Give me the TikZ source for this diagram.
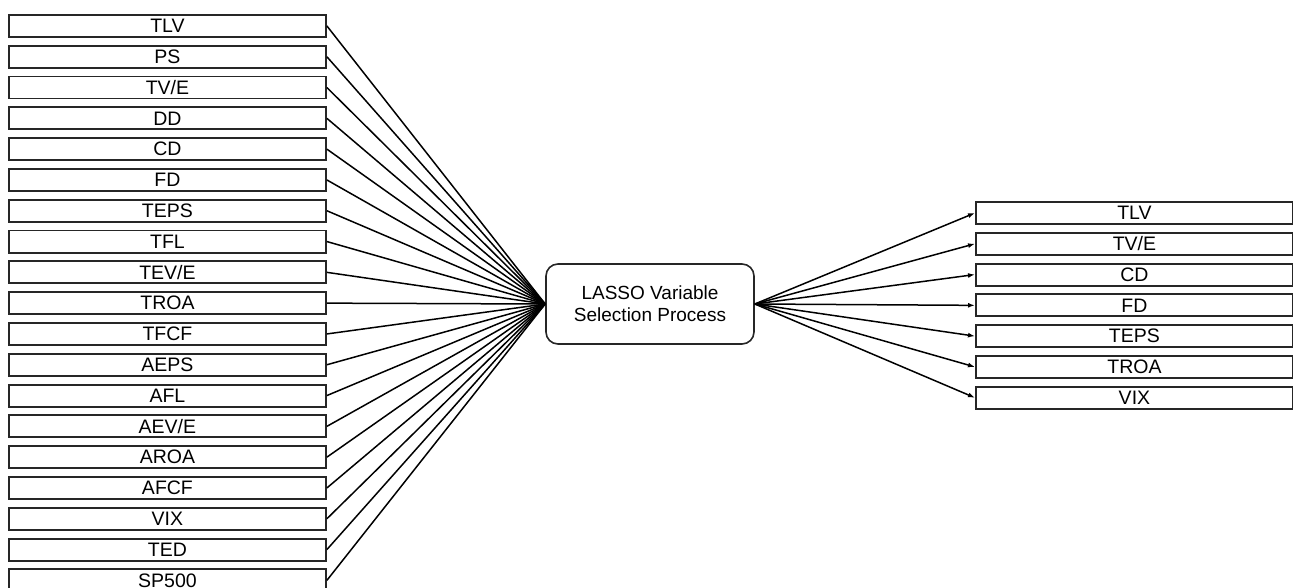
\documentclass[tikz,border=0pt]{standalone}
\usepackage{fontspec}
\setmainfont{Liberation Sans}
\usetikzlibrary{arrows.meta}
\begin{document}
\begin{tikzpicture}[x=1pt,y=-1pt,
  varbox/.style={draw=black!85, line width=1.9pt, minimum width=317pt, minimum height=22pt,
    inner sep=0pt, anchor=north west, font=\fontsize{19.5}{19.5}\selectfont},
  procbox/.style={draw=black!85, line width=1.6pt, rounded corners=12pt, minimum width=208pt,
    minimum height=80pt, align=center, font=\fontsize{19}{22}\selectfont},
  feed/.style={line width=1.5pt},
  pick/.style={line width=1.5pt, -{Latex[length=7pt,width=5pt]}}]
\useasboundingbox (0,0) rectangle (1293,588);
% candidate predictors
\foreach \lab [count=\i from 0] in {TLV,PS,TV/E,DD,CD,FD,TEPS,TFL,TEV/E,TROA,TFCF,AEPS,AFL,AEV/E,AROA,AFCF,VIX,TED,SP500}
  \node[varbox] (L\i) at (8,{14+30.8*\i}) {\lab};
% selection step
\node[procbox] (lasso) at (650,304) {LASSO Variable\\Selection Process};
% retained predictors
\foreach \lab [count=\i from 0] in {TLV,TV/E,CD,FD,TEPS,TROA,VIX}
  \node[varbox] (R\i) at (975,{201+30.8*\i}) {\lab};
\foreach \i in {0,...,18}
  \draw[feed] (L\i.east) -- (lasso.west);
\foreach \i in {0,...,6}
  \draw[pick] (lasso.east) -- (R\i.west);
\end{tikzpicture}
\end{document}
